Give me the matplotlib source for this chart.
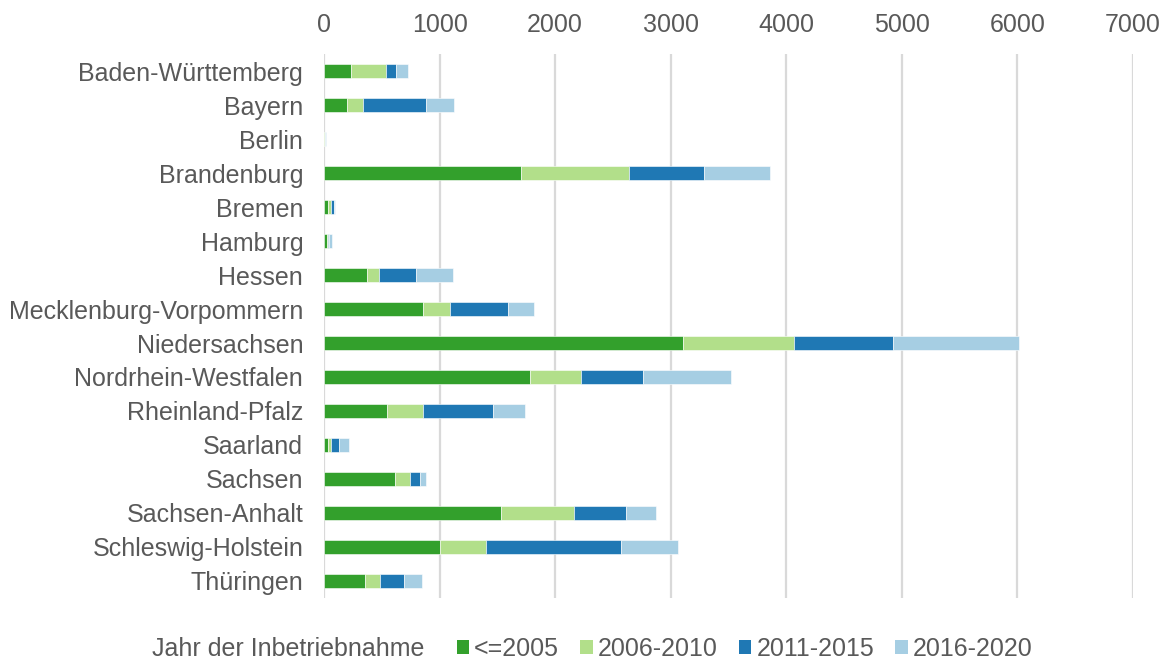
import numpy as np
import matplotlib.pyplot as plt
from matplotlib.patches import Patch

plt.rcParams['font.family'] = ['Liberation Sans', 'DejaVu Sans']

laender = ['Baden-Württemberg', 'Bayern', 'Berlin', 'Brandenburg', 'Bremen',
           'Hamburg', 'Hessen', 'Mecklenburg-Vorpommern', 'Niedersachsen',
           'Nordrhein-Westfalen', 'Rheinland-Pfalz', 'Saarland', 'Sachsen',
           'Sachsen-Anhalt', 'Schleswig-Holstein', 'Thüringen']

# installed capacity by commissioning period
bis_2005 = [236, 199, 3, 1703, 35, 23, 370, 855, 3103, 1786, 541, 35, 614, 1534, 1004, 355]
p2006_2010 = [301, 139, 2, 932, 26, 12, 107, 231, 963, 434, 314, 26, 130, 626, 395, 132]
p2011_2015 = [86, 542, 3, 652, 23, 8, 323, 502, 856, 537, 605, 69, 87, 453, 1171, 205]
p2016_2020 = [104, 243, 7, 568, 8, 26, 314, 230, 1090, 768, 279, 83, 52, 260, 496, 156]

series = [bis_2005, p2006_2010, p2011_2015, p2016_2020]
labels = ['<=2005', '2006-2010', '2011-2015', '2016-2020']
colors = ['#33a02c', '#b2df8a', '#1f78b4', '#a6cee3']
xticks = [0, 1000, 2000, 3000, 4000, 5000, 6000, 7000]

fig = plt.figure(figsize=(11.66, 6.62), dpi=100)
ax = fig.add_axes([0.2779, 0.0967, 0.6938, 0.8217])

y = np.arange(len(laender))
left = np.zeros(len(laender))
for vals, lab, col in zip(series, labels, colors):
    ax.barh(y, vals, left=left, height=0.41, color=col, label=lab,
            edgecolor='white', linewidth=0.4, zorder=3)
    left += np.array(vals)

ax.set_ylim(len(laender) - 0.5, -0.5)
ax.set_xlim(0, 7000)
ax.set_xticks(xticks)
ax.xaxis.tick_top()
ax.set_yticks(y)
ax.set_yticklabels(laender)
ax.tick_params(axis='both', length=0, labelsize=18, labelcolor='#595959')
ax.tick_params(axis='x', pad=12)
ax.tick_params(axis='y', pad=15)
ax.grid(axis='x', color='#d9d9d9', linewidth=1.6, zorder=0)
for s in ax.spines.values():
    s.set_visible(False)

fig.text(152 / 1166, 1 - 649 / 662, 'Jahr der Inbetriebnahme', fontsize=18,
         color='#595959', va='center', ha='left')
handles = [Patch(facecolor=c) for c in colors]
fig.legend(handles, labels, loc='center left', bbox_to_anchor=(434 / 1166, 1 - 649 / 662),
           ncol=4, frameon=False, fontsize=18, labelcolor='#595959',
           handlelength=0.5, handleheight=0.5, handletextpad=0.2, columnspacing=0.85)

fig.savefig('out.png', dpi=100)
